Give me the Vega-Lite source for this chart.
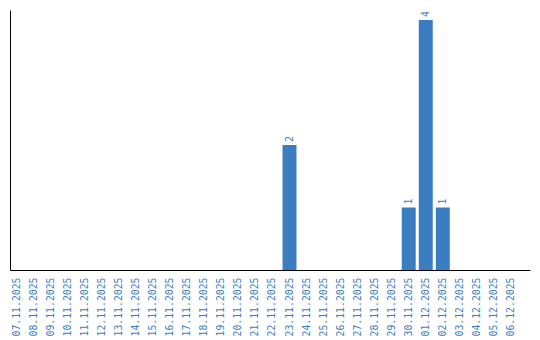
{
  "$schema": "https://vega.github.io/schema/vega-lite/v6.json",
  "width": 520,
  "height": 260,
  "autosize": {"type": "none"},
  "padding": {"left": 10, "top": 10, "right": 10, "bottom": 70},
  "background": "white",
  "config": {"view": {"stroke": null}},
  "data": {"values": [
    {"date": "07.11.2025", "count": 0},
    {"date": "08.11.2025", "count": 0},
    {"date": "09.11.2025", "count": 0},
    {"date": "10.11.2025", "count": 0},
    {"date": "11.11.2025", "count": 0},
    {"date": "12.11.2025", "count": 0},
    {"date": "13.11.2025", "count": 0},
    {"date": "14.11.2025", "count": 0},
    {"date": "15.11.2025", "count": 0},
    {"date": "16.11.2025", "count": 0},
    {"date": "17.11.2025", "count": 0},
    {"date": "18.11.2025", "count": 0},
    {"date": "19.11.2025", "count": 0},
    {"date": "20.11.2025", "count": 0},
    {"date": "21.11.2025", "count": 0},
    {"date": "22.11.2025", "count": 0},
    {"date": "23.11.2025", "count": 2},
    {"date": "24.11.2025", "count": 0},
    {"date": "25.11.2025", "count": 0},
    {"date": "26.11.2025", "count": 0},
    {"date": "27.11.2025", "count": 0},
    {"date": "28.11.2025", "count": 0},
    {"date": "29.11.2025", "count": 0},
    {"date": "30.11.2025", "count": 1},
    {"date": "01.12.2025", "count": 4},
    {"date": "02.12.2025", "count": 1},
    {"date": "03.12.2025", "count": 0},
    {"date": "04.12.2025", "count": 0},
    {"date": "05.12.2025", "count": 0},
    {"date": "06.12.2025", "count": 0}
  ]},
  "encoding": {
    "x": {
      "field": "date", "type": "nominal", "sort": null,
      "scale": {"paddingInner": 0.18, "paddingOuter": 0.355, "align": 0},
      "axis": {
        "title": null, "ticks": false, "labelAngle": -90, "labelAlign": "right", "labelBaseline": "middle",
        "labelPadding": 7, "labelFont": "DejaVu Sans Mono", "labelFontSize": 9.8, "labelColor": "#3b7dc1",
        "domainColor": "#000000", "domainWidth": 1, "grid": false
      }
    },
    "y": {
      "field": "count", "type": "quantitative",
      "scale": {"domain": [0, 4.16], "nice": false, "zero": true},
      "axis": {"title": null, "ticks": false, "labels": false, "grid": false, "domainColor": "#000000", "domainWidth": 1}
    }
  },
  "layer": [
    {"mark": {"type": "bar", "color": "#3b7dc1"}},
    {
      "transform": [{"filter": "datum.count > 0"}],
      "mark": {"type": "text", "angle": -90, "align": "left", "baseline": "middle", "dx": 3, "font": "DejaVu Sans Mono", "fontSize": 10, "color": "#3b7dc1"},
      "encoding": {"text": {"field": "count", "type": "quantitative"}}
    }
  ]
}
